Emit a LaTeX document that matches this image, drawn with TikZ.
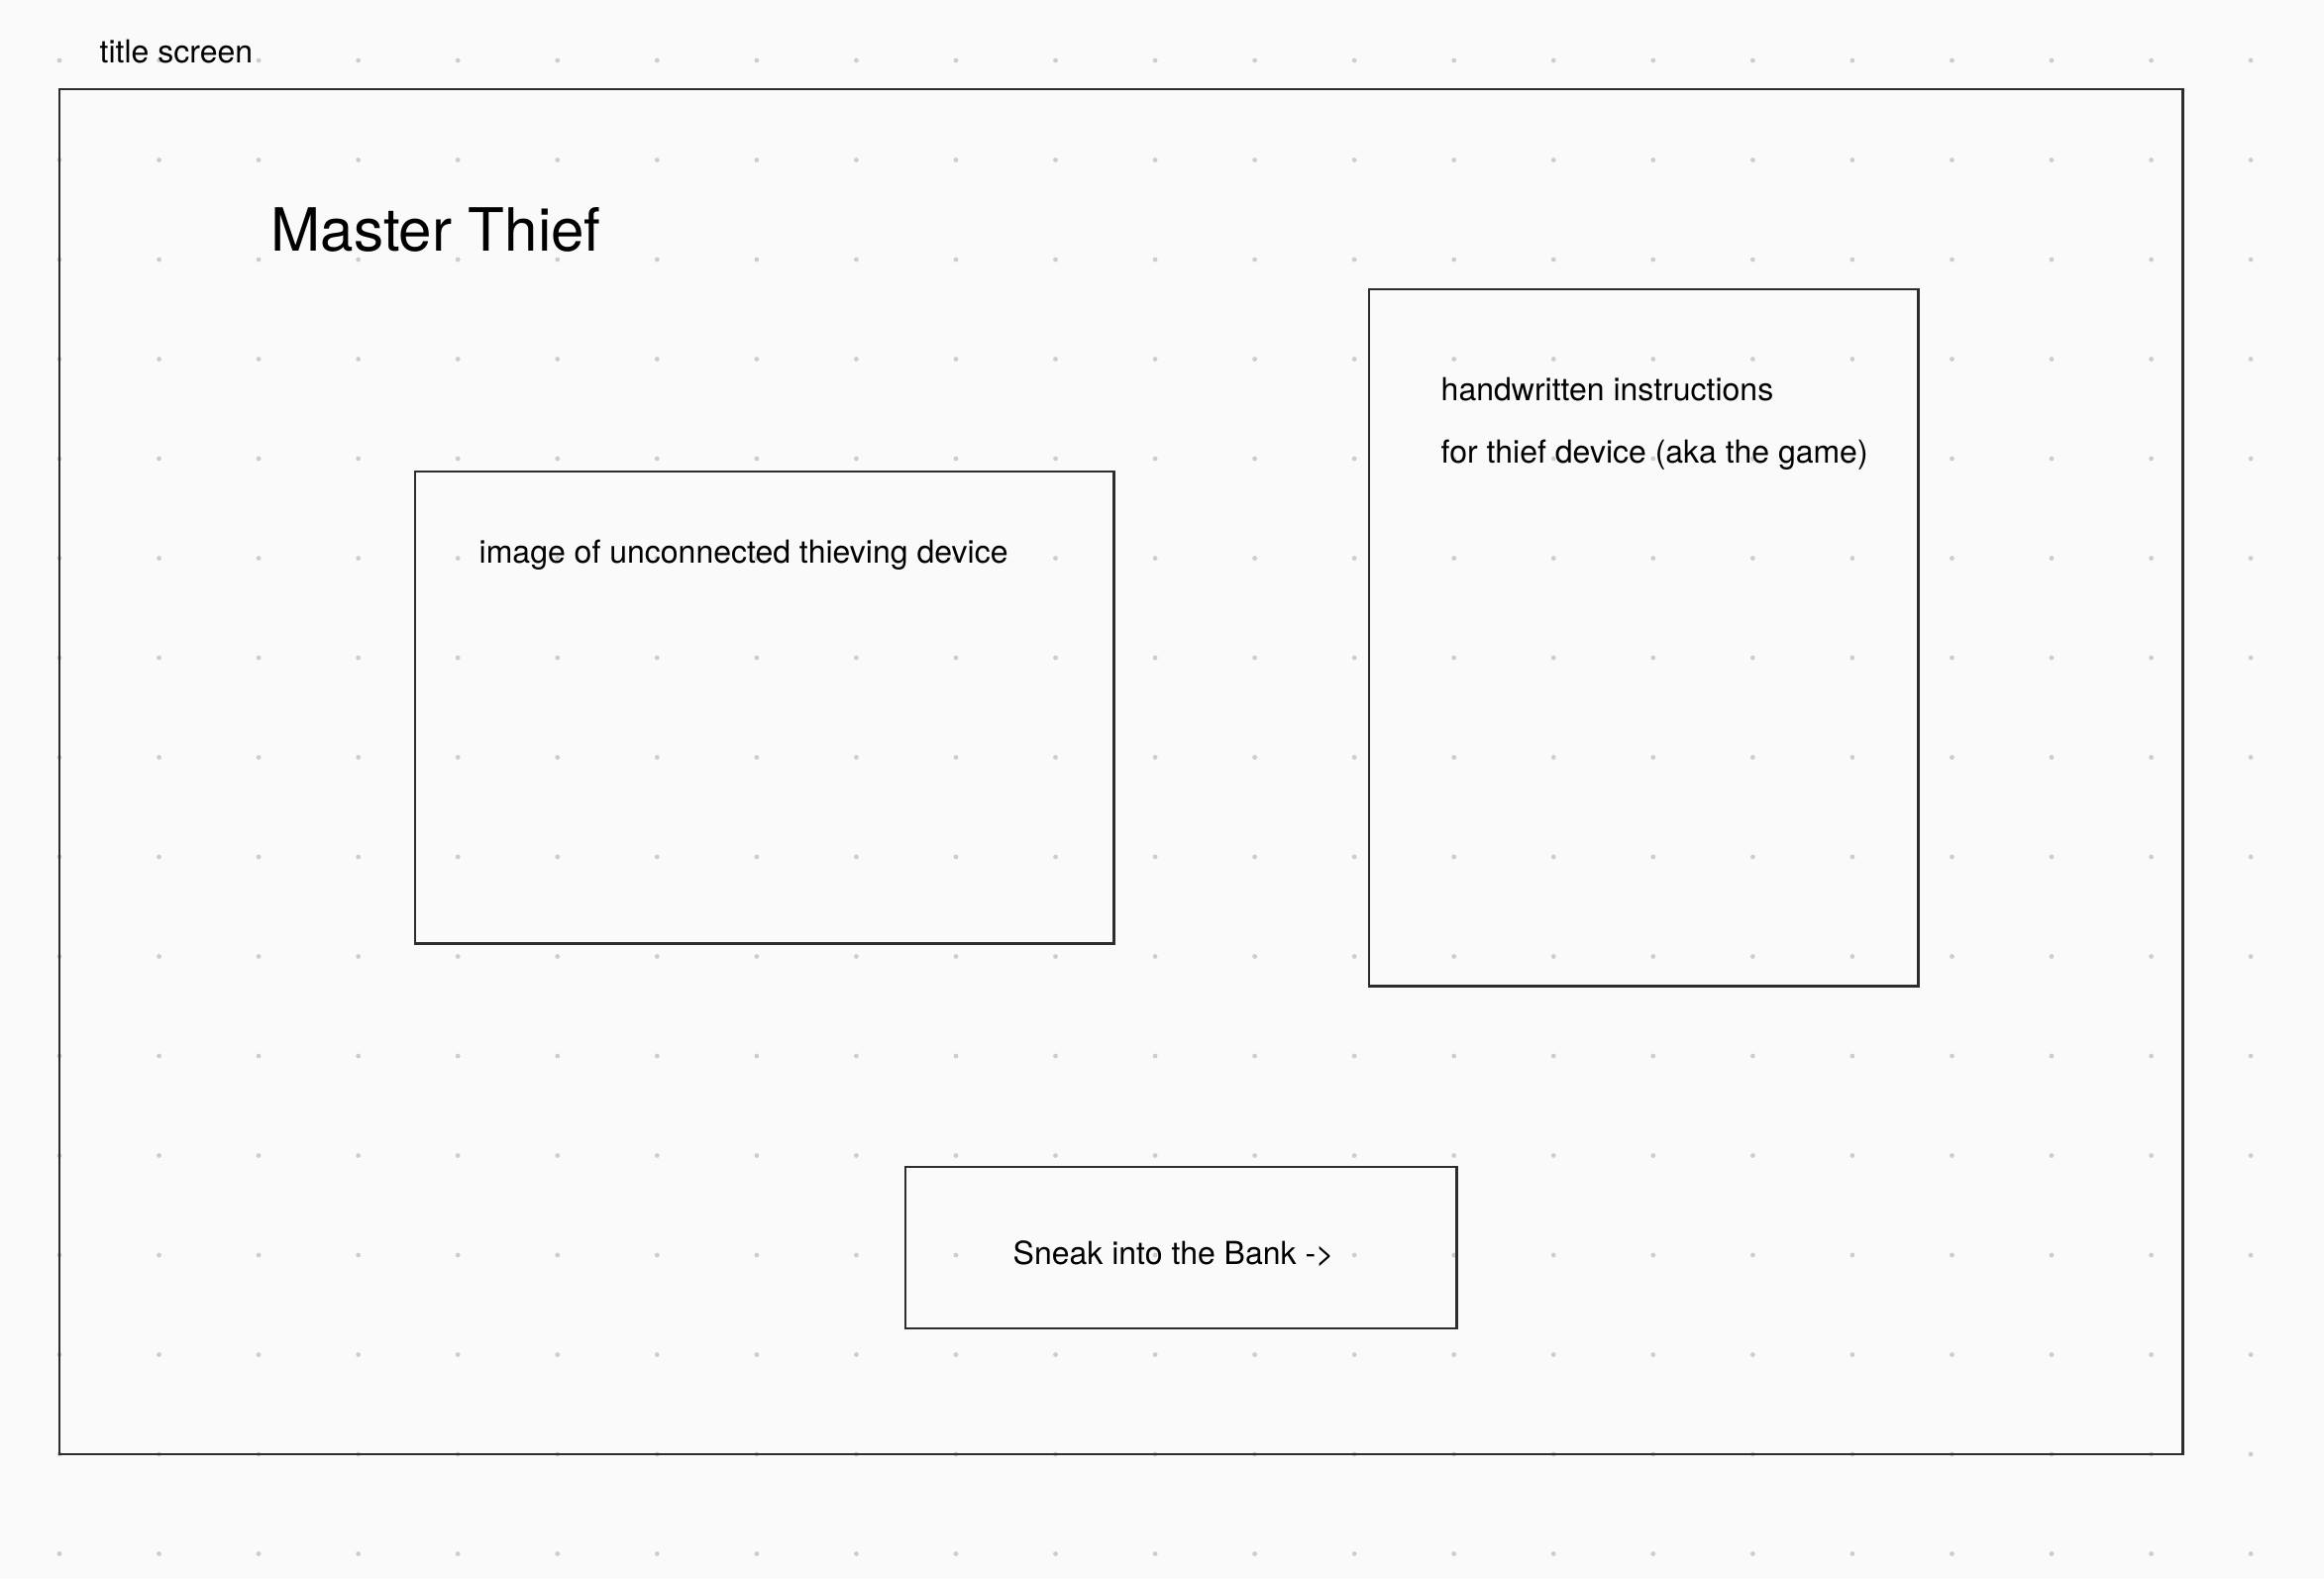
\documentclass[tikz,border=0pt]{standalone}
\usepackage{fontspec}
\setmainfont{TeX Gyre Heros}
\usetikzlibrary{positioning}

\definecolor{paper}{RGB}{250,250,250}
\definecolor{griddot}{RGB}{205,205,205}
\definecolor{edge}{RGB}{45,45,45}

\tikzset{
  panel/.style={draw=edge,line width=0.7pt,rectangle,inner sep=0pt,outer sep=0pt,anchor=north west},
  caption/.style={inner sep=0pt,anchor=base west,text=black,font=\fontsize{9.1}{11}\selectfont},
  headline/.style={caption,font=\fontsize{17.1}{20}\selectfont},
}

\begin{document}
\begin{tikzpicture}[x=0.01cm,y=-0.01cm]
   \useasboundingbox (0,0) rectangle (2346,1594);
   \fill[paper] (0,0) rectangle (2346,1594);

   \foreach \i in{0,...,22}
      {
        \foreach \j in{0,...,15}
           {
             \fill[griddot] (60+100.55*\i,61+100.5*\j) circle (0.024cm);
           }
      }

   \node[caption] (screenname) at(100,64) {title screen};
   \node[panel,minimum width=21.42cm,minimum height=13.77cm] (screen) at(60,90) {};

   \node[headline] (gametitle) at(273,254) {Master Thief};

   \node[panel,minimum width=7.05cm,minimum height=4.76cm] (devicebox) at(419,476) {};
   \node[caption] (devicetext) at(483,568) {image of unconnected thieving device};

   \node[panel,minimum width=5.54cm,minimum height=7.03cm] (notesbox) at(1382,292) {};
   \node[caption] (notesone) at(1454,404) {handwritten instructions};
   \node[caption] (notestwo) at(1454,467) {for thief device (aka the game)};

   \node[panel,minimum width=5.56cm,minimum height=1.63cm] (startbox) at(914,1178) {};
   \node[caption] (starttext) at(1022,1276) {Sneak into the Bank ->};
\end{tikzpicture}
\end{document}
